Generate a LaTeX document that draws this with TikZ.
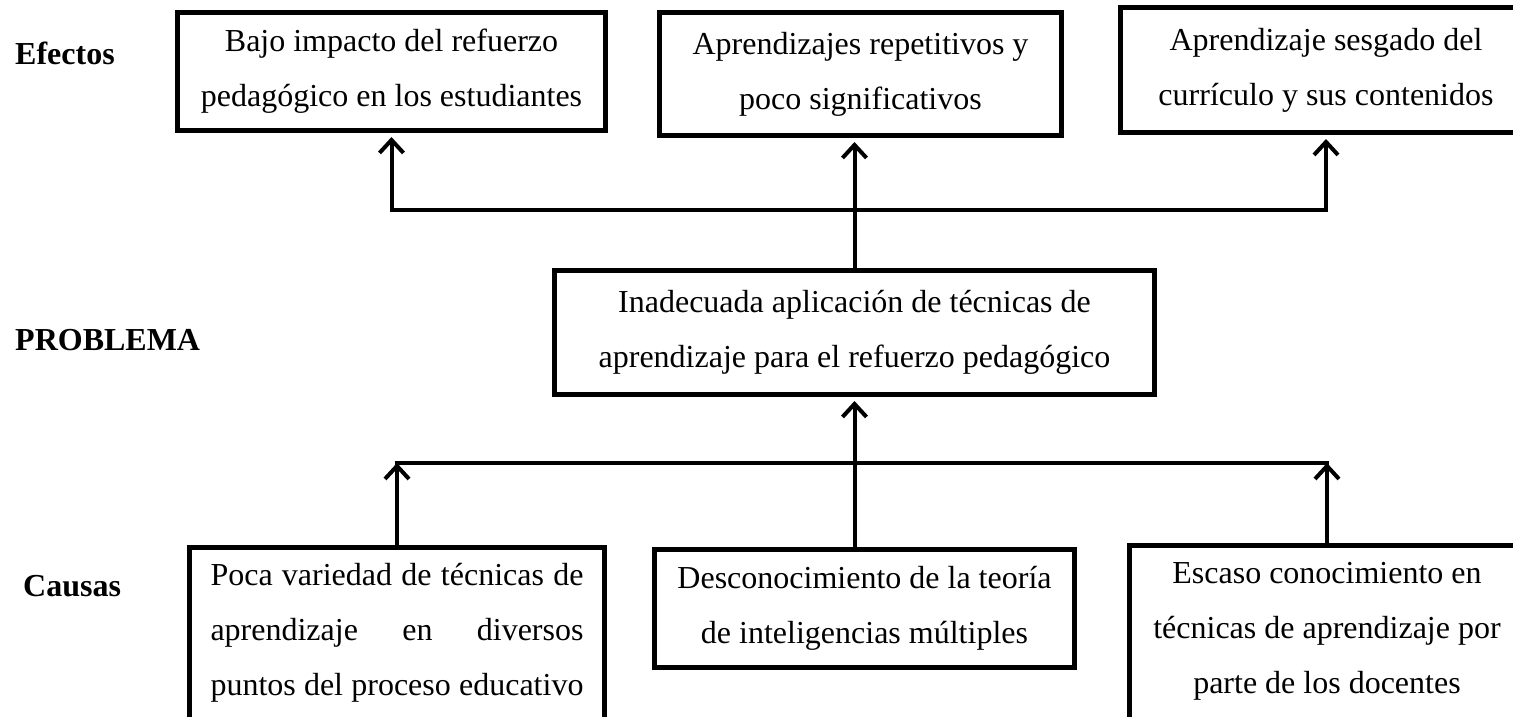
\documentclass[tikz,border=0pt]{standalone}
\usepackage{fontspec}
\setmainfont{Liberation Serif}
\usetikzlibrary{arrows.meta}
\begin{document}
\begin{tikzpicture}[x=1pt,y=-1pt,
  every node/.style={font=\fontsize{32}{55}\selectfont},
  box/.style={draw, rectangle, line width=5pt, inner sep=0pt, align=center},
  lbl/.style={anchor=west, inner sep=0pt, font=\fontsize{32}{55}\selectfont\bfseries},
  conn/.style={line width=4pt, line cap=rect},
  arr/.style={line width=4pt, -{Straight Barb[length=13pt,width=24pt]}},
  tobox/.style={arr, shorten >=4pt}]
\useasboundingbox (0,0) rectangle (1513,716);
\clip (0,0) rectangle (1513,716);
% labels
\node[lbl] (Lef) at (15,53) {Efectos};
\node[lbl] (Lpr) at (15,340) {PROBLEMA};
\node[lbl] (Lca) at (23,586) {Causas};
% effects
\node[box, minimum width=428pt, minimum height=118pt] (E1) at (391.5,71.5) {Bajo impacto del refuerzo\\pedagógico en los estudiantes};
\node[box, minimum width=402pt, minimum height=123pt] (E2) at (860.5,74) {Aprendizajes repetitivos y\\poco significativos};
\node[box, minimum width=411pt, minimum height=125pt] (E3) at (1326,70) {Aprendizaje sesgado del\\currículo y sus contenidos};
% problem
\node[box, minimum width=600pt, minimum height=124pt] (P) at (854.5,332.5) {Inadecuada aplicación de técnicas de\\aprendizaje para el refuerzo pedagógico};
% causes
\node[box, minimum width=415pt, minimum height=182pt] (C1) at (397,638.5) {\raisebox{9pt}[\height][\depth]{\begin{tabular}{@{}c@{}}\hbox to 373pt{Poca variedad de técnicas de}\\\hbox to 373pt{aprendizaje\hfill en\hfill diversos}\\\hbox to 373pt{puntos del proceso educativo}\end{tabular}}};
\node[box, minimum width=420pt, minimum height=118pt] (C2) at (864.5,608.5) {Desconocimiento de la teoría\\de inteligencias múltiples};
\node[box, minimum width=395pt, minimum height=182pt] (C3) at (1327,636.5) {\raisebox{9pt}[\height][\depth]{\begin{tabular}{@{}c@{}}Escaso conocimiento en\\técnicas de aprendizaje por\\parte de los docentes\end{tabular}}};
% buses
\coordinate (bt) at (0,210);
\coordinate (bb) at (0,463);
\draw[conn] (E1.south |- bt) -- (E3.south |- bt);
\draw[tobox] (E1.south |- bt) -- (E1.south);
\draw[tobox] (E3.south |- bt) -- (E3.south);
\draw[tobox] (P.north) -- (E2.south -| P.north);
\draw[conn] (C1.north |- bb) -- (C3.north |- bb);
\draw[arr] (C1.north) -- (C1.north |- bb);
\draw[arr] (C3.north) -- (C3.north |- bb);
\draw[tobox] (P.south |- C2.north) -- (P.south);
\end{tikzpicture}
\end{document}
